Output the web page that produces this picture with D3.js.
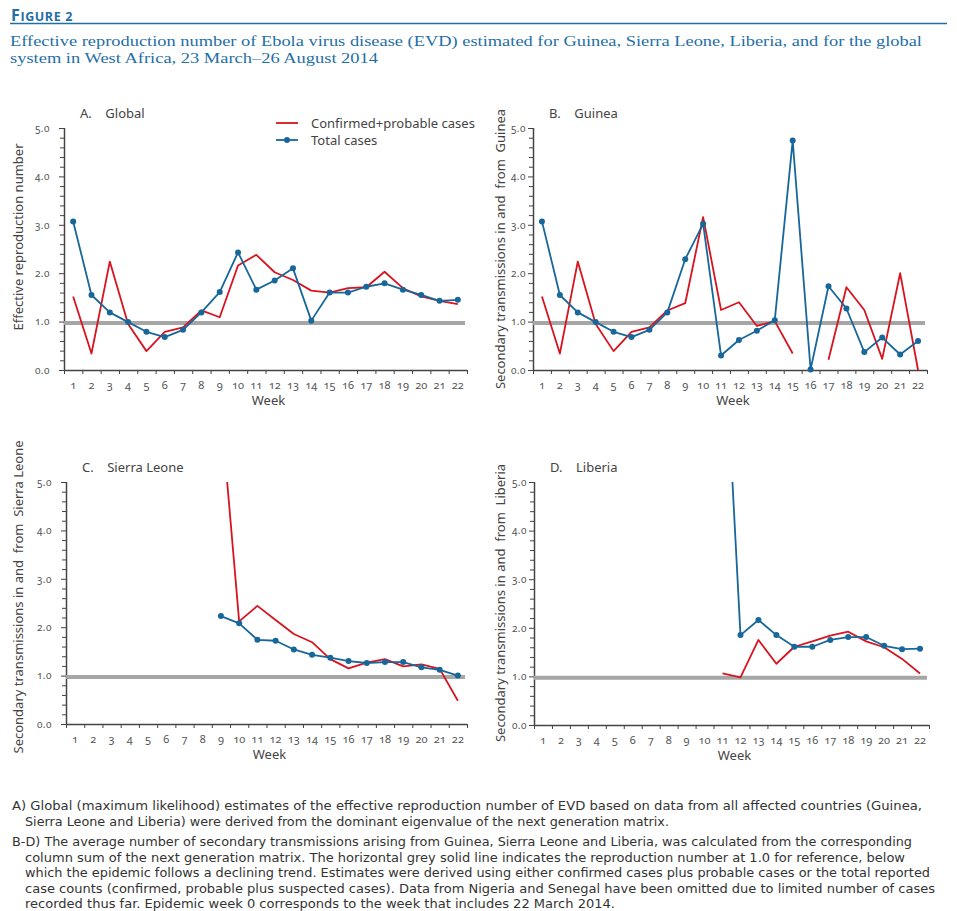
<!DOCTYPE html>
<html>
<head>
<meta charset="utf-8">
<script src="https://cdn.jsdelivr.net/npm/d3@7"></script>
<style>
body{margin:0;background:#fff;}
svg{display:block;}
</style>
</head>
<body>
<script>
// weeks / ticks
var weeks = [1,2,3,4,5,6,7,8,9,10,11,12,13,14,15,16,17,18,19,20,21,22];
var yMajor = [0,1,2,3,4,5];
var yMinor = [0.2,0.4,0.6,0.8,1.2,1.4,1.6,1.8,2.2,2.4,2.6,2.8,3.2,3.4,3.6,3.8,4.2,4.4,4.6,4.8];
var refValue = 0.97;

// A. Global
var globalConfirmed = [1.52,0.34,2.24,0.95,0.39,0.79,0.88,1.23,1.09,2.16,2.38,2.02,1.86,1.64,1.60,1.69,1.71,2.03,1.69,1.52,1.43,1.36];
var globalTotal     = [3.07,1.55,1.19,0.99,0.79,0.68,0.83,1.19,1.61,2.43,1.66,1.85,2.10,1.02,1.60,1.60,1.72,1.79,1.66,1.55,1.43,1.45];
// B. Guinea
var guineaConfirmed = [1.52,0.34,2.24,0.95,0.39,0.79,0.88,1.23,1.38,3.16,1.24,1.40,0.91,1.01,0.34,null,0.21,1.71,1.24,0.23,2.00,0.0];
var guineaTotal     = [3.07,1.55,1.19,0.99,0.79,0.68,0.83,1.19,2.29,3.02,0.30,0.62,0.81,1.03,4.74,0.01,1.73,1.27,0.37,0.67,0.32,0.60];
// C. Sierra Leone
var sierraConfirmed = [null,null,null,null,null,null,null,null,6.5,2.12,2.44,2.15,1.86,1.69,1.34,1.15,1.27,1.34,1.19,1.23,1.14,0.48];
var sierraTotal     = [null,null,null,null,null,null,null,null,2.23,2.08,1.74,1.72,1.54,1.43,1.37,1.30,1.26,1.28,1.28,1.17,1.12,1.00];
// D. Liberia
var liberiaConfirmed = [null,null,null,null,null,null,null,null,null,null,1.06,0.98,1.75,1.26,1.61,1.72,1.84,1.92,1.72,1.60,1.36,1.06];
var liberiaTotal     = [null,null,null,null,null,null,null,null,null,null,8.9,1.85,2.16,1.85,1.61,1.61,1.75,1.81,1.81,1.63,1.56,1.57];

var red = "#d7141f", blue = "#18679a", grey = "#a6a6a6", ink = "#444";

var panels = [
  {key:"A", name:"Global", ytitle:"Effective reproduction number",
   confirmed:globalConfirmed, total:globalTotal,
   left:64, right:467, top:128, bottom:370, tx:18, ty:237, pad:9, legend:true},
  {key:"B", name:"Guinea", ytitle:"Secondary transmissions in and  from  Guinea",
   confirmed:guineaConfirmed, total:guineaTotal,
   left:533, right:927, top:128, bottom:370, tx:500, ty:249, pad:2},
  {key:"C", name:"Sierra Leone", ytitle:"Secondary transmissions in and  from  Sierra Leone",
   confirmed:sierraConfirmed, total:sierraTotal,
   left:66, right:467, top:482, bottom:724, tx:18, ty:597, pad:9},
  {key:"D", name:"Liberia", ytitle:"Secondary transmissions in and  from  Liberia",
   confirmed:liberiaConfirmed, total:liberiaTotal,
   left:534, right:929, top:482, bottom:725, tx:500, ty:603, pad:2}
];

var svg = d3.select("body").append("svg")
  .attr("width", 957)
  .attr("height", 911)
  .style("font-family", "'Noto Sans', 'Open Sans', sans-serif");

// header
var head = svg.append("text").attr("x", 11).attr("y", 21)
  .attr("fill", "#1f6fa5").attr("font-weight", "bold")
  .style("letter-spacing", "0.6px")
  .style("font-family", "'Open Sans', 'Noto Sans', sans-serif");
head.append("tspan").attr("font-size", 16).text("F");
head.append("tspan").attr("font-size", 12.5).text("IGURE 2");
svg.append("line").attr("x1", 10).attr("x2", 947).attr("y1", 23.5).attr("y2", 23.5)
  .attr("stroke", "#1f6fa5").attr("stroke-width", 1.5);

var titleLines = [
  "Effective reproduction number of Ebola virus disease (EVD) estimated for Guinea, Sierra Leone, Liberia, and for the global",
  "system in West Africa, 23 March\u201326 August 2014"
];
svg.selectAll("text.title").data(titleLines).enter().append("text")
  .attr("class", "title")
  .attr("x", 10)
  .attr("y", function(d, i){ return 46 + i * 17; })
  .attr("fill", "#1f6fa5")
  .attr("font-size", 15.5)
  .style("font-family", "'Liberation Serif', 'DejaVu Serif', serif")
  .attr("textLength", function(d, i){ return i == 0 ? 912 : 368; })
  .attr("lengthAdjust", "spacingAndGlyphs")
  .text(function(d){ return d; });

// panels
panels.forEach(function(p){
  var x = d3.scaleBand().domain(weeks).range([p.left, p.right]);
  var xEdge = d3.scaleLinear().domain([0, weeks.length]).range([p.left, p.right]);
  var y = d3.scaleLinear().domain([0, 5]).range([p.bottom, p.top]);
  var g = svg.append("g");

  // minor y ticks
  g.append("g").attr("transform", "translate(" + p.left + ",0)")
    .call(d3.axisLeft(y).tickValues(yMinor).tickSize(4).tickFormat(""))
    .call(function(s){ s.select(".domain").remove(); s.selectAll("line").attr("stroke", ink); });
  // major y ticks
  g.append("g").attr("transform", "translate(" + p.left + ",0)")
    .call(d3.axisLeft(y).tickValues(yMajor).tickSize(5).tickPadding(p.pad).tickFormat(d3.format(".1f")))
    .call(function(s){
      s.select(".domain").attr("stroke", ink).attr("stroke-width", 1.5).attr("d", "M0.5," + p.top + "V" + p.bottom);
      s.selectAll("line").attr("stroke", ink);
      s.selectAll("text").attr("fill", "#555").attr("font-size", 10).style("letter-spacing", "0.5px")
        .style("font-variant-numeric", "oldstyle-nums")
        .style("font-family", "'Noto Sans', sans-serif");
    });

  // x ticks at band edges
  g.append("g").attr("transform", "translate(0," + p.bottom + ")")
    .call(d3.axisBottom(xEdge).ticks(weeks.length).tickSize(4).tickFormat(""))
    .call(function(s){
      s.select(".domain").attr("stroke", ink).attr("stroke-width", 1.5).attr("d", "M" + p.left + ",0.5H" + p.right);
      s.selectAll("line").attr("stroke", ink);
    });
  // week labels at band centres
  g.append("g").attr("transform", "translate(0," + p.bottom + ")")
    .call(d3.axisBottom(x).tickSize(0).tickPadding(11))
    .call(function(s){
      s.select(".domain").remove();
      s.selectAll("text").attr("fill", "#555").attr("font-size", 11)
        .style("font-variant-numeric", "oldstyle-nums")
        .style("font-family", "'Noto Sans', sans-serif");
    });

  g.append("text").attr("x", (p.left + p.right) / 2 + 3).attr("y", p.bottom + 35)
    .attr("text-anchor", "middle").attr("font-size", 13).attr("fill", ink).text("Week");

  g.append("text")
    .attr("transform", "translate(" + p.tx + "," + p.ty + ") rotate(-90)")
    .attr("text-anchor", "middle").attr("dy", "0.35em")
    .attr("font-size", 13).attr("fill", ink)
    .style("white-space", "pre")
    .text(p.ytitle);

  // panel label
  g.append("text").attr("x", p.left + 16).attr("y", p.top - 10)
    .attr("font-size", 13).attr("fill", ink)
    .style("white-space", "pre")
    .text(p.key + ".    " + p.name);

  // reference line
  g.append("line").attr("x1", p.left).attr("x2", p.right - 2)
    .attr("y1", y(refValue)).attr("y2", y(refValue))
    .attr("stroke", grey).attr("stroke-width", 4);

  // clip to plot area
  var clipId = "clip" + p.key;
  svg.append("clipPath").attr("id", clipId).append("rect")
    .attr("x", p.left).attr("y", p.top).attr("width", p.right - p.left).attr("height", p.bottom - p.top + 4);
  var plot = g.append("g").attr("clip-path", "url(#" + clipId + ")");

  var line = d3.line()
    .defined(function(d){ return d != null; })
    .x(function(d, i){ return x(weeks[i]) + x.bandwidth() / 2; })
    .y(function(d){ return y(d); });

  plot.append("path").datum(p.confirmed).attr("d", line)
    .attr("fill", "none").attr("stroke", red).attr("stroke-width", 1.8).attr("stroke-linejoin", "round");
  plot.append("path").datum(p.total).attr("d", line)
    .attr("fill", "none").attr("stroke", blue).attr("stroke-width", 1.8).attr("stroke-linejoin", "round");
  plot.selectAll("circle").data(p.total.map(function(v, i){ return {v:v, w:weeks[i]}; })
      .filter(function(d){ return d.v != null; }))
    .enter().append("circle")
    .attr("cx", function(d){ return x(d.w) + x.bandwidth() / 2; })
    .attr("cy", function(d){ return y(d.v); })
    .attr("r", 3).attr("fill", blue);

  if (p.legend) {
    var lg = g.append("g");
    lg.append("line").attr("x1", 276).attr("x2", 298).attr("y1", 123).attr("y2", 123)
      .attr("stroke", red).attr("stroke-width", 1.8);
    lg.append("line").attr("x1", 276).attr("x2", 298).attr("y1", 140).attr("y2", 140)
      .attr("stroke", blue).attr("stroke-width", 1.8);
    lg.append("circle").attr("cx", 287).attr("cy", 140).attr("r", 3).attr("fill", blue);
    lg.append("text").attr("x", 311).attr("y", 123).attr("dy", "0.35em")
      .attr("font-size", 13).attr("fill", ink).text("Confirmed+probable cases");
    lg.append("text").attr("x", 311).attr("y", 140).attr("dy", "0.35em")
      .attr("font-size", 13).attr("fill", ink).text("Total cases");
  }
});

// footnotes
var notes = [
  {x:12, y:810, w:910, t:"A) Global (maximum likelihood) estimates of the effective reproduction number of EVD based on data from all affected countries (Guinea,"},
  {x:25, y:826, w:644, t:"Sierra Leone and Liberia) were derived from the dominant eigenvalue of the next generation matrix."},
  {x:12, y:846, w:900, t:"B-D) The average number of secondary transmissions arising from Guinea, Sierra Leone and Liberia, was calculated from the corresponding"},
  {x:25, y:862, w:880, t:"column sum of the next generation matrix. The horizontal grey solid line indicates the reproduction number at 1.0 for reference, below"},
  {x:25, y:877, w:905, t:"which the epidemic follows a declining trend. Estimates were derived using either confirmed cases plus probable cases or the total reported"},
  {x:25, y:893, w:910, t:"case counts (confirmed, probable plus suspected cases). Data from Nigeria and Senegal have been omitted due to limited number of cases"},
  {x:25, y:908, w:590, t:"recorded thus far. Epidemic week 0 corresponds to the week that includes 22 March 2014."}
];
svg.selectAll("text.note").data(notes).enter().append("text")
  .attr("class", "note")
  .attr("x", function(d){ return d.x; })
  .attr("y", function(d){ return d.y; })
  .attr("textLength", function(d){ return d.w; })
  .attr("lengthAdjust", "spacingAndGlyphs")
  .attr("font-size", 12.5)
  .attr("fill", "#333")
  .style("font-family", "'Liberation Sans Narrow', 'DejaVu Sans Condensed', sans-serif")
  .text(function(d){ return d.t; });
</script>
</body>
</html>
